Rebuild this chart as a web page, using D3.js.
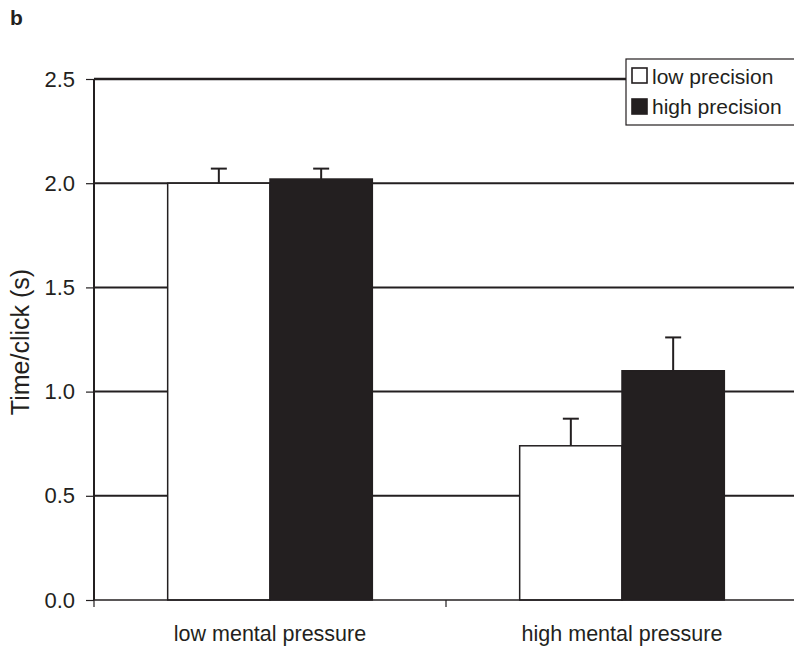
<!DOCTYPE html>
<html>
<head>
<meta charset="utf-8">
<script src="https://cdn.jsdelivr.net/npm/d3@7"></script>
<style>
  body { margin: 0; background: #fff; }
  svg { display: block; font-family: "Liberation Sans", Arial, sans-serif; }
</style>
</head>
<body>
<svg id="chart" width="794" height="652"></svg>
<script>
// Time per click by mental pressure and precision condition
const categories = ["low mental pressure", "high mental pressure"];
const seriesNames = ["low precision", "high precision"];
const lowPrecision = [2.00, 0.74];
const highPrecision = [2.02, 1.10];
const lowPrecisionErr = [0.07, 0.13];
const highPrecisionErr = [0.05, 0.16];
const yTicks = [0, 0.5, 1.0, 1.5, 2.0, 2.5];

const svg = d3.select("#chart");
const ink = "#231f20";
const margin = { left: 94, right: -4, top: 79, bottom: 52 };
const W = 794, H = 652;

const x0 = d3.scaleBand().domain(categories)
  .range([margin.left, W - margin.right]).paddingInner(0).paddingOuter(0);
const x1 = d3.scaleBand().domain(seriesNames)
  .range([0, x0.bandwidth()]).paddingOuter(0.72).paddingInner(0.0);
const y = d3.scaleLinear().domain([0, 2.5]).range([H - margin.bottom, margin.top]);

// horizontal gridlines
svg.append("g").selectAll("line").data(yTicks.slice(1)).join("line")
  .attr("x1", margin.left).attr("x2", W)
  .attr("y1", d => y(d)).attr("y2", d => y(d))
  .attr("stroke", ink).attr("stroke-width", d => d === 2.5 ? 2.6 : 2);

// bars
const rows = categories.map((c, i) => [
  { cat: c, s: seriesNames[0], v: lowPrecision[i], e: lowPrecisionErr[i], fill: "#fff" },
  { cat: c, s: seriesNames[1], v: highPrecision[i], e: highPrecisionErr[i], fill: ink }
]).flat();

const bars = svg.append("g");
bars.selectAll("rect").data(rows).join("rect")
  .attr("x", d => x0(d.cat) + x1(d.s))
  .attr("y", d => y(d.v))
  .attr("width", x1.bandwidth())
  .attr("height", d => y(0) - y(d.v))
  .attr("fill", d => d.fill)
  .attr("stroke", ink).attr("stroke-width", 1.5);

// error bars (upper only)
const eb = svg.append("g").attr("stroke", ink).attr("stroke-width", 2);
eb.selectAll("line.v").data(rows).join("line").attr("class", "v")
  .attr("x1", d => x0(d.cat) + x1(d.s) + x1.bandwidth() / 2)
  .attr("x2", d => x0(d.cat) + x1(d.s) + x1.bandwidth() / 2)
  .attr("y1", d => y(d.v)).attr("y2", d => y(d.v + d.e));
eb.selectAll("line.c").data(rows).join("line").attr("class", "c")
  .attr("x1", d => x0(d.cat) + x1(d.s) + x1.bandwidth() / 2 - 8)
  .attr("x2", d => x0(d.cat) + x1(d.s) + x1.bandwidth() / 2 + 8)
  .attr("y1", d => y(d.v + d.e)).attr("y2", d => y(d.v + d.e));

// y axis
const yAxis = svg.append("g").attr("transform", `translate(${margin.left},0)`)
  .call(d3.axisLeft(y).tickValues(yTicks).tickFormat(d3.format(".1f")).tickSize(8).tickPadding(11));
yAxis.select(".domain").attr("stroke", ink).attr("stroke-width", 2).attr("d", `M0,${y(2.5)}V${y(0)}`);
yAxis.selectAll(".tick line").attr("stroke", ink).attr("stroke-width", 1.2);
yAxis.selectAll(".tick text").attr("font-size", 22).attr("fill", ink)
  .attr("font-family", "'Liberation Sans', Arial, sans-serif");

// x axis
const xAxis = svg.append("g").attr("transform", `translate(0,${y(0)})`);
xAxis.append("line").attr("x1", margin.left).attr("x2", W)
  .attr("y1", 0).attr("y2", 0).attr("stroke", ink).attr("stroke-width", 1.5);
xAxis.selectAll("line.t").data([categories[0], categories[1]]).join("line").attr("class", "t")
  .attr("x1", d => x0(d)).attr("x2", d => x0(d))
  .attr("y1", 0).attr("y2", 7).attr("stroke", ink).attr("stroke-width", 1.2);
xAxis.selectAll("text").data(categories).join("text")
  .attr("x", d => x0(d) + x0.bandwidth() / 2).attr("y", 41)
  .attr("text-anchor", "middle").attr("font-size", 21.5).attr("fill", ink)
  .text(d => d);

// y axis title
svg.append("text")
  .attr("transform", "translate(29,342) rotate(-90)")
  .attr("text-anchor", "middle").attr("font-size", 25).attr("fill", ink)
  .text("Time/click (s)");

// panel letter
svg.append("text").attr("x", 10).attr("y", 25)
  .attr("font-size", 21).attr("font-weight", "bold").attr("fill", ink).text("b");

// legend
const lg = svg.append("g").attr("transform", "translate(626,59)");
lg.append("rect").attr("x", 0).attr("y", 0).attr("width", 180).attr("height", 66)
  .attr("fill", "#fff").attr("stroke", ink).attr("stroke-width", 1.2);
seriesNames.forEach((s, i) => {
  lg.append("rect").attr("x", 6).attr("y", 9 + i * 31).attr("width", 15).attr("height", 15)
    .attr("fill", i === 0 ? "#fff" : ink).attr("stroke", ink).attr("stroke-width", 1.6);
  lg.append("text").attr("x", 26).attr("y", 25 + i * 30)
    .attr("font-size", 21).attr("fill", ink).text(s);
});
</script>
</body>
</html>
